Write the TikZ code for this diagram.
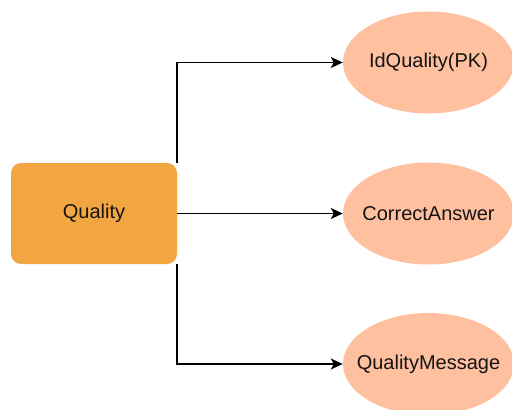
\documentclass[tikz,border=0pt]{standalone}
\usepackage{fontspec}
\setmainfont{Liberation Sans}
\usetikzlibrary{arrows.meta,shapes.geometric}
\definecolor{boxc}{RGB}{242,166,66}
\definecolor{ellc}{RGB}{255,192,160}
\definecolor{txtc}{RGB}{20,20,20}
\newcommand{\fixw}[1]{\makebox[0pt][c]{#1}}
\begin{document}
\begin{tikzpicture}[x=1pt,y=-1pt,
  entity/.style={rectangle,rounded corners=10pt,fill=boxc,draw=none,minimum width=166pt,minimum height=101pt,inner sep=0pt,font=\fontsize{20}{24}\selectfont,text=txtc},
  attr/.style={ellipse,fill=ellc,draw=none,minimum width=171pt,minimum height=102pt,inner sep=0pt,font=\fontsize{20}{24}\selectfont,text=txtc},
  conn/.style={line width=1.5pt,-{Stealth[length=12pt,width=11pt,inset=3pt]}}]
\useasboundingbox (0,0) rectangle (512,410);
\clip (0,0) rectangle (512,410);
\node[entity] (q) at (94,213.5) {Quality};
\node[attr] (id) at (428.5,62.5) {\fixw{IdQuality(PK)}};
\node[attr] (ca) at (428.5,213.5) {\fixw{CorrectAnswer}};
\node[attr] (qm) at (428.5,364) {\fixw{QualityMessage}};
\draw[conn] (q.north east) |- (id.west);
\draw[conn] (q.east) -- (ca.west);
\draw[conn] (q.south east) |- (qm.west);
\end{tikzpicture}
\end{document}
